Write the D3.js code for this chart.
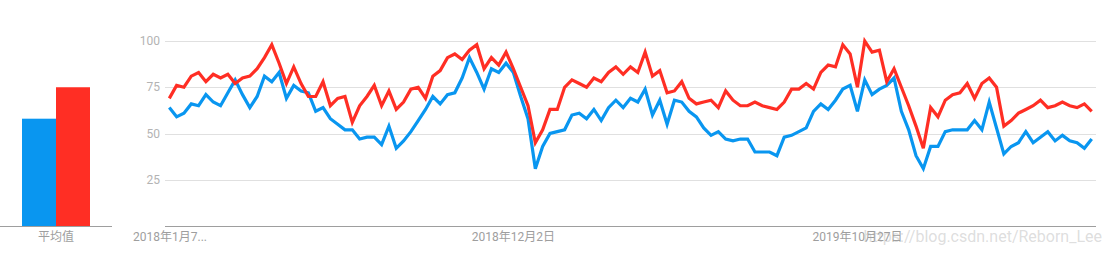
<!DOCTYPE html>
<html>
<head>
<meta charset="utf-8">
<script src="https://cdn.jsdelivr.net/npm/d3@7"></script>
<style>
  body { margin: 0; background: #fff; }
  svg { display: block; font-family: Roboto, "Noto Sans CJK SC", sans-serif; }
  .grid line { stroke: #e0e0e0; }
  .tick-label { fill: #b3b3b3; font-size: 12px; }
  .x-label { fill: #9e9e9e; font-size: 12px; }
</style>
</head>
<body>
<svg width="1112" height="253"></svg>
<script>
// weekly interest, starting 2018-01-07
const blueSeries = [64, 59, 61, 66, 65, 71, 67, 65, 72, 79, 71, 64, 70, 81, 78, 83, 69, 76, 73, 72,
  62, 64, 58, 55, 52, 52, 47, 48, 48, 44, 54, 42, 46, 51, 57, 63, 70, 66, 71, 72,
  80, 91, 83, 74, 85, 83, 88, 83, 70, 58, 31, 43, 50, 51, 52, 60, 61, 58, 63, 57,
  64, 68, 64, 69, 67, 74, 60, 68, 55, 68, 67, 62, 59, 53, 49, 51, 47, 46, 47, 47,
  40, 40, 40, 38, 48, 49, 51, 53, 62, 66, 63, 68, 74, 76, 62, 79, 71, 74, 76, 80,
  62, 52, 38, 31, 43, 43, 51, 52, 52, 52, 57, 52, 67, 53, 39, 43, 45, 51, 45, 48,
  51, 46, 49, 46, 45, 42, 47];
const redSeries = [69, 76, 75, 81, 83, 78, 82, 80, 82, 77, 80, 81, 85, 91, 98, 88, 77, 86, 77, 70,
  70, 78, 65, 69, 70, 56, 65, 70, 76, 65, 73, 63, 67, 74, 75, 69, 81, 84, 91, 93,
  90, 95, 98, 85, 91, 87, 94, 85, 75, 65, 45, 52, 63, 63, 75, 79, 77, 75, 80, 78,
  83, 86, 82, 86, 83, 94, 81, 84, 72, 73, 78, 69, 66, 67, 68, 64, 73, 68, 65, 65,
  67, 65, 64, 63, 67, 74, 74, 77, 74, 83, 87, 86, 98, 93, 75, 100, 94, 95, 78, 85,
  75, 65, 54, 42, 64, 59, 68, 71, 72, 77, 69, 77, 80, 75, 54, 57, 61, 63, 65, 68,
  64, 65, 67, 65, 64, 66, 62];
const averages = [58, 75];
const yTicks = [25, 50, 75, 100];
const xLabels = ["2018-01-07", "2018-12-02", "2019-10-27"];
const barLabel = "平均值";
const watermark = "https://blog.csdn.net/Reborn_Lee";

const colors = ["#0996f0", "#ff2e24"];

const svg = d3.select("svg");
const parse = d3.timeParse("%Y-%m-%d");
const start = parse("2018-01-07");
const weeks = d3.timeWeek.range(start, d3.timeWeek.offset(start, blueSeries.length));

const y = d3.scaleLinear().domain([0, 100]).range([226, 41]);
const x = d3.scaleTime().domain([weeks[0], weeks[weeks.length - 1]]).range([169.3, 1091.7]);

//* average bars
const barX = d3.scaleBand().domain([0, 1]).range([22, 90]);
svg.selectAll("rect.avg")
  .data(averages)
  .enter()
  .append("rect")
  .attr("x", (_, i) => barX(i))
  .attr("width", barX.bandwidth())
  .attr("y", d => y(d))
  .attr("height", d => y(0) - y(d))
  .attr("fill", (_, i) => colors[i]);

svg.append("line")
  .attr("x1", 0).attr("x2", 112)
  .attr("y1", y(0) + 0.5).attr("y2", y(0) + 0.5)
  .attr("stroke", "#9e9e9e");

svg.append("text")
  .attr("class", "x-label")
  .attr("x", 56).attr("y", 241)
  .attr("text-anchor", "middle")
  .text(barLabel);

//* grid + y labels
const grid = svg.append("g").attr("class", "grid");
grid.selectAll("line")
  .data(yTicks)
  .enter()
  .append("line")
  .attr("x1", 165).attr("x2", 1096)
  .attr("y1", d => Math.round(y(d)) + 0.5)
  .attr("y2", d => Math.round(y(d)) + 0.5);

svg.selectAll("text.tick-label")
  .data(yTicks)
  .enter()
  .append("text")
  .attr("class", "tick-label")
  .attr("x", 160)
  .attr("y", d => y(d) + 4)
  .attr("text-anchor", "end")
  .text(d => d);

svg.append("line")
  .attr("x1", 165).attr("x2", 1096)
  .attr("y1", y(0) + 0.5).attr("y2", y(0) + 0.5)
  .attr("stroke", "#9e9e9e");

//* x labels
const fmt = d3.timeFormat("%Y年%-m月%-d日");
svg.selectAll("text.xl")
  .data(xLabels)
  .enter()
  .append("text")
  .attr("class", "x-label")
  .attr("x", (d, i) => i === 0 ? 133 : x(parse(d)))
  .attr("y", 241)
  .attr("text-anchor", (_, i) => i === 0 ? "start" : "middle")
  .text((d, i) => i === 0 ? fmt(parse(d)).slice(0, 8) + "..." : fmt(parse(d)));

//* lines
const line = d3.line()
  .x((_, i) => x(weeks[i]))
  .y(d => y(d));

[blueSeries, redSeries].forEach((s, k) => {
  svg.append("path")
    .datum(s)
    .attr("fill", "none")
    .attr("stroke", colors[k])
    .attr("stroke-width", 3.2)
    .attr("stroke-linejoin", "miter")
    .attr("d", line);
});

//* watermark (overlaps the last date label, as in the source image)
svg.append("text")
  .attr("x", 1102).attr("y", 242)
  .attr("text-anchor", "end")
  .attr("font-size", 16)
  .attr("fill", "rgba(170,170,170,0.4)")
  .text(watermark);
</script>
</body>
</html>
